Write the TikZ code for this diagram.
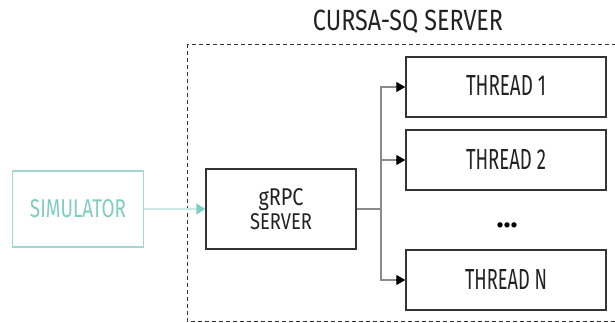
\documentclass[tikz,border=0pt]{standalone}
\usepackage{fontspec}
\usepackage{graphicx}
\setmainfont{Fira Sans}
\usetikzlibrary{arrows.meta}
\definecolor{tealbox}{HTML}{9ED8CF}
\definecolor{tealtext}{HTML}{7FCCC0}
\definecolor{tealline}{HTML}{C8E9E4}
\definecolor{boxline}{HTML}{333333}
\definecolor{conn}{HTML}{8A8A8A}
\definecolor{txt}{HTML}{222222}
\newcommand\fitlabel[3]{\resizebox{#1pt}{#2pt}{#3}}
\begin{document}
\begin{tikzpicture}[x=1pt,y=-1pt,
  box/.style={draw=boxline,line width=1.4pt,minimum width=200pt,minimum height=60pt,inner sep=0pt,text=txt},
  simbox/.style={draw=tealbox,line width=1.4pt,minimum width=131pt,minimum height=76pt,inner sep=0pt,text=tealtext},
  conline/.style={draw=conn,line width=1.2pt},
  arr/.style={conline,-{Triangle[length=9pt,width=10pt,color=black]}},
  simarr/.style={draw=tealline,line width=1.6pt,-{Triangle[length=9pt,width=11pt,color=tealtext]}}
]
\useasboundingbox (0,0) rectangle (615,323);
\draw[boxline,line width=1pt,dash pattern=on 4pt off 3pt] (187.5,44.5) rectangle (625,321.5);
\node[text=txt,inner sep=0pt] (title) at (408,22) {\fitlabel{190}{20.5}{CURSA-SQ SERVER}};
\node[box] (t1) at (506,87) {\raisebox{2pt}{\fitlabel{80}{20}{THREAD 1}}};
\node[box] (t2) at (506,160) {\raisebox{2pt}{\fitlabel{80}{20}{THREAD 2}}};
\node[text=black,inner sep=0pt] (dots) at (507,225) {\resizebox{21pt}{!}{\bfseries ...}};
\node[box] (tn) at (506,280) {\raisebox{2pt}{\fitlabel{82}{20}{THREAD N}}};
\node[box,minimum width=150pt,minimum height=80pt,align=center,font=\fontsize{10}{24}\selectfont] (grpc) at (281,209) {\fitlabel{45}{17}{gRPC}\\\fitlabel{62}{16}{SERVER}};
\node[simbox] (sim) at (78,209) {\fitlabel{96}{18}{SIMULATOR}};
\coordinate (split) at (381,209);
\draw[simarr] (sim.east) -- (grpc.west);
\draw[conline] (grpc.east) -- (split);
\draw[arr] (split) |- (t1.west);
\draw[arr] (split) |- (t2.west);
\draw[arr] (split) |- (tn.west);
\end{tikzpicture}
\end{document}
